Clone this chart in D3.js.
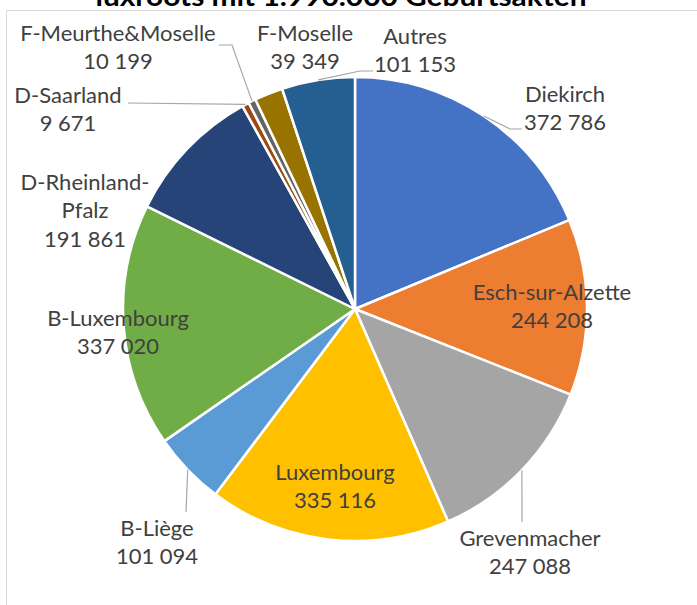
<!DOCTYPE html>
<html>
<head>
<meta charset="utf-8">
<script src="https://cdn.jsdelivr.net/npm/d3@7"></script>
<style>
  body { margin: 0; background: #fff; }
  text { font-family: Lato, "Open Sans", sans-serif; fill: #404040; }
</style>
</head>
<body>
<div id="chart"></div>
<script>
// data
var regions = ["Diekirch", "Esch-sur-Alzette", "Grevenmacher", "Luxembourg", "B-Liège",
    "B-Luxembourg", "D-Rheinland-Pfalz", "D-Saarland", "F-Meurthe&Moselle", "F-Moselle", "Autres"];
var counts = [372786, 244208, 247088, 335116, 101094, 337020, 191861, 9671, 10199, 39349, 101153];
var labelLines = [["Diekirch"], ["Esch-sur-Alzette"], ["Grevenmacher"], ["Luxembourg"], ["B-Liège"],
    ["B-Luxembourg"], ["D-Rheinland-", "Pfalz"], ["D-Saarland"], ["F-Meurthe&Moselle"], ["F-Moselle"], ["Autres"]];
var colors = ["#4472C4", "#ED7D31", "#A5A5A5", "#FFC000", "#5B9BD5", "#70AD47",
    "#264478", "#9E480E", "#636363", "#997300", "#255E91"];
var title = "luxroots mit 1.990.000 Geburtsakten";

//general setup
var width = 697,
    height = 605,
    cx = 355,
    cy = 309,
    radius = 232,
    lineGap = 28.5;

// label anchors (centre of first line), relative to pie centre
var labelPos = [[210, -215], [197, -17], [175, 229], [-20, 163], [-198, 219],
    [-237, 9], [-270, -127], [-287, -214], [-237, -276], [-50, -276], [60, -273]];
// leader line points after the slice edge, relative to pie centre (null = no leader)
var leaderPts = [[[155, -180], [167, -180]], null, [[167, 213]], null, [[-169, 203]],
    null, null, [[-227, -206]], [[-123, -264], [-136, -264]], null, [[5, -238], [18, -238]]];

var svg = d3.select("#chart").append("svg")
    .attr("width", width)
    .attr("height", height);

// frame
svg.append("rect")
    .attr("x", 6.5)
    .attr("y", 10.5)
    .attr("width", 720)
    .attr("height", 640)
    .attr("fill", "none")
    .attr("stroke", "#D9D9D9");

// title (cut at top)
svg.append("text")
    .attr("x", 341)
    .attr("y", 6)
    .attr("text-anchor", "middle")
    .attr("font-size", 26)
    .attr("font-weight", "bold")
    .attr("textLength", 491)
    .attr("lengthAdjust", "spacingAndGlyphs")
    .style("fill", "#000")
    .text(title);

var g = svg.append("g")
    .attr("transform", "translate(" + cx + "," + cy + ")");

var pie = d3.pie().sort(null).value(function (d) { return d; });
var arcs = pie(counts);

var arc = d3.arc().innerRadius(0).outerRadius(radius);
var edgeArc = d3.arc().innerRadius(radius).outerRadius(radius);

// slices
g.selectAll("path.slice")
    .data(arcs)
    .enter().append("path")
    .attr("class", "slice")
    .attr("d", arc)
    .attr("fill", function (d, i) { return colors[i]; })
    .attr("stroke", "#fff")
    .attr("stroke-width", 2.5)
    .attr("stroke-linejoin", "round");

// leader lines
var line = d3.line();
arcs.forEach(function (d, i) {
    if (!leaderPts[i]) return;
    var start = edgeArc.centroid(d);
    g.append("path")
        .attr("d", line([start].concat(leaderPts[i])))
        .attr("fill", "none")
        .attr("stroke", "#A6A6A6")
        .attr("stroke-width", 1.2);
});

// data labels
var fmt = function (v) { return d3.format(",")(v).replace(/,/g, " "); };
arcs.forEach(function (d, i) {
    var lines = labelLines[i].concat([fmt(counts[i])]);
    var t = g.append("text")
        .attr("text-anchor", "middle")
        .attr("font-size", 22);
    lines.forEach(function (s, k) {
        t.append("tspan")
            .attr("x", labelPos[i][0])
            .attr("y", labelPos[i][1] + k * lineGap)
            .attr("dy", "0.35em")
            .text(s);
    });
});
</script>
</body>
</html>
